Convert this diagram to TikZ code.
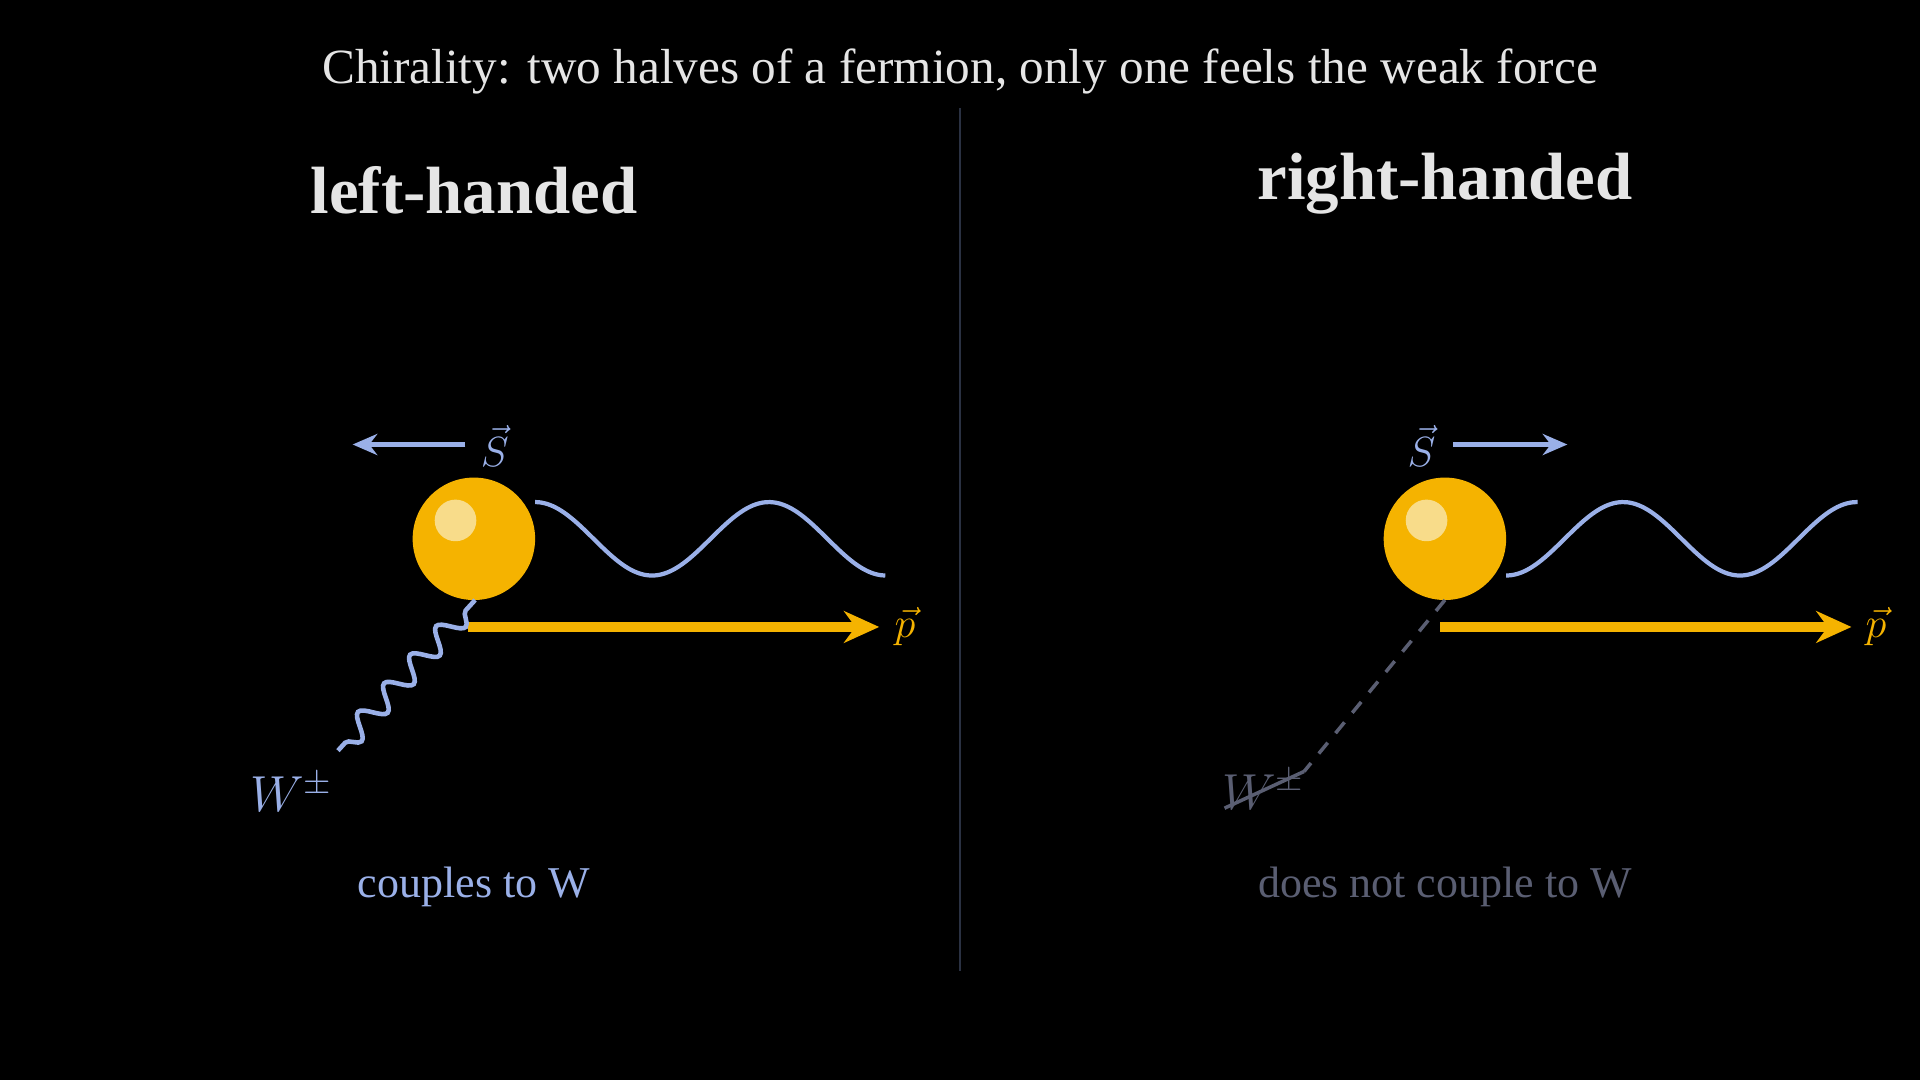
\documentclass[tikz,border=0pt]{standalone}
\usepackage{fontspec}
\setmainfont{Liberation Serif}
\usetikzlibrary{decorations.pathmorphing,arrows.meta}
\definecolor{gold}{HTML}{F5B300}
\definecolor{hilite}{HTML}{F8DC8A}
\definecolor{spinblue}{HTML}{9AB0E8}
\definecolor{dimgrey}{HTML}{5A5E72}
\definecolor{divider}{HTML}{2A3142}
\begin{document}
\begin{tikzpicture}[x=0.012245cm, y=-0.012245cm,
    spin/.style={spinblue, line width=1.6pt, -{Stealth[length=7pt,width=6pt]}},
    mom/.style={gold, line width=2.6pt, -{Stealth[length=10pt,width=9pt]}},
    wave/.style={spinblue, line width=1.2pt, samples=80, smooth}]
  \fill[black] (0,0) rectangle (1568,882);
  \useasboundingbox (0,0) rectangle (1568,882);

  \node[text=white!90!black, font=\fontsize{14}{16}\selectfont] (Title) at (784,58)
    {Chirality: two halves of a fermion, only one feels the weak force};
  \draw[divider, line width=0.6pt] (784,88) -- (784,793);

  % left-handed
  \node[text=white!90!black, font=\bfseries\fontsize{19}{23}\selectfont] (LH) at (387,155) {left-handed};
  \fill[gold] (387,440) circle[radius=50];
  \fill[hilite] (372,425) circle[radius=17];
  \coordinate (Lball) at (388,490);
  \coordinate (Lsp) at (380,363);
  \coordinate (Lsq) at (288,363);
  \draw[spin] (Lsp) -- (Lsq);
  \node[text=spinblue, font=\large, inner sep=1pt] (LS) at (404,364) {$\vec S$};
  \draw[wave] plot[domain=0:286] ({\x+437},{440-30*cos(1.885*\x)});
  \coordinate (Lp0) at (382,512);
  \coordinate (Lp1) at (718,512);
  \draw[mom] (Lp0) -- (Lp1);
  \node[text=gold, font=\large] (Lp) at (739,512) {$\vec p$};
  \coordinate (LW) at (276,613);
  \draw[spinblue, line width=1.3pt, decorate,
    decoration={snake, amplitude=3.2pt, segment length=11pt, pre length=4pt, post length=1pt}] (Lball) -- (LW);
  \node[text=spinblue, font=\Large] (LWl) at (238,647) {$W^{\pm}$};
  \node[text=spinblue, font=\fontsize{12.5}{15}\selectfont] (Lcap) at (387,724) {couples to W};

  % right-handed
  \node[text=white!90!black, font=\bfseries\fontsize{19}{23}\selectfont] (RH) at (1180,150) {right-handed};
  \fill[gold] (1180,440) circle[radius=50];
  \fill[hilite] (1165,425) circle[radius=17];
  \coordinate (Rball) at (1180,490);
  \coordinate (Rsp) at (1187,363);
  \coordinate (Rsq) at (1280,363);
  \draw[spin] (Rsp) -- (Rsq);
  \node[text=spinblue, font=\large, inner sep=1pt] (RS) at (1161,364) {$\vec S$};
  \draw[wave] plot[domain=0:287] ({\x+1230},{440+30*cos(1.885*\x)});
  \coordinate (Rp0) at (1176,512);
  \coordinate (Rp1) at (1512,512);
  \draw[mom] (Rp0) -- (Rp1);
  \node[text=gold, font=\large] (Rp) at (1532,512) {$\vec p$};
  \coordinate (RW) at (1065,630);
  \draw[dimgrey, line width=1pt, dash pattern=on 4pt off 3.5pt] (Rball) -- (RW);
  \node[text=dimgrey, font=\Large] (RWl) at (1032,645) {$W^{\pm}$};
  \coordinate (Xa) at (1000,660);
  \draw[dimgrey, line width=1pt] (Xa) -- (RW);
  \node[text=dimgrey, font=\fontsize{12.5}{15}\selectfont] (Rcap) at (1180,724) {does not couple to W};
\end{tikzpicture}
\end{document}
